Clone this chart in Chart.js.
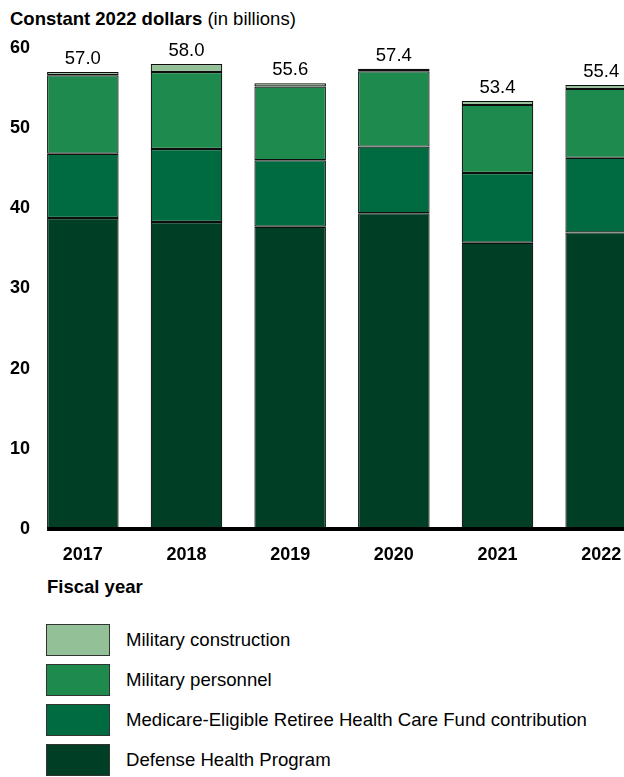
<!DOCTYPE html>
<html>
<head>
<meta charset="utf-8">
<script src="https://cdn.jsdelivr.net/npm/chart.js@4/dist/chart.umd.min.js"></script>
<style>
  html, body { margin: 0; padding: 0; background: #fff; width: 624px; height: 777px; overflow: hidden; }
  body { position: relative; font-family: "Liberation Sans", Arial, sans-serif; color: #000; }
  #title { position: absolute; left: 10px; top: 8px; font-size: 18.5px; line-height: 22px; white-space: nowrap; }
  #title b { font-weight: bold; }
  #wrap { position: absolute; left: 0; top: 0; width: 653px; height: 570px; }
  #xtitle { position: absolute; left: 47px; top: 576px; font-size: 18.5px; line-height: 22px; font-weight: bold; }
  #legend { position: absolute; left: 46px; top: 624px; }
  .li { position: relative; height: 32px; margin-bottom: 8px; }
  .sw { position: absolute; left: 0; top: 0; width: 62px; height: 30px; border: 1px solid #333; }
  .lt { position: absolute; left: 80px; top: 0; line-height: 32px; font-size: 18.6px; white-space: nowrap; }
</style>
</head>
<body>
<div id="title"><b>Constant 2022 dollars</b> (in billions)</div>
<div id="wrap"><canvas id="c" width="653" height="570"></canvas></div>
<div id="xtitle">Fiscal year</div>
<div id="legend"></div>
<script>
const years = ["2017", "2018", "2019", "2020", "2021", "2022"];
const defenseHealthProgram = [38.8, 38.3, 37.7, 39.4, 35.7, 37.0];
const medicareEligibleFund = [8.0, 9.1, 8.3, 8.3, 8.7, 9.3];
const militaryPersonnel = [9.8, 9.6, 9.2, 9.4, 8.5, 8.6];
const militaryConstruction = [0.4, 1.0, 0.4, 0.3, 0.5, 0.5];
const yTicks = [0, 10, 20, 30, 40, 50, 60];

const FONT = '"Liberation Sans", Arial, sans-serif';

const totalsPlugin = {
  id: 'totals',
  afterDatasetsDraw(chart) {
    const ctx = chart.ctx;
    const n = chart.data.datasets.length;
    const topMeta = chart.getDatasetMeta(n - 1);
    ctx.save();
    // thick zero line
    const firstBar = chart.getDatasetMeta(0).data[0];
    const y0 = chart.scales.y.getPixelForValue(0);
    ctx.fillStyle = '#000';
    ctx.fillRect(firstBar.x - firstBar.width / 2, y0 - 2, chart.chartArea.right - (firstBar.x - firstBar.width / 2), 4);
    // totals
    ctx.font = '18.5px ' + FONT;
    ctx.textAlign = 'center';
    ctx.textBaseline = 'alphabetic';
    chart.data.labels.forEach((lab, i) => {
      let sum = 0;
      chart.data.datasets.forEach(ds => { sum += ds.data[i]; });
      const el = topMeta.data[i];
      ctx.fillText(sum.toFixed(1), el.x, el.y - 8);
    });
    ctx.restore();
  }
};

const chart = new Chart(document.getElementById('c'), {
  type: 'bar',
  data: {
    labels: years,
    datasets: [
      { label: 'Defense Health Program', data: defenseHealthProgram, backgroundColor: '#003f26' },
      { label: 'Medicare-Eligible Retiree Health Care Fund contribution', data: medicareEligibleFund, backgroundColor: '#006b40' },
      { label: 'Military personnel', data: militaryPersonnel, backgroundColor: '#1f8a4d' },
      { label: 'Military construction', data: militaryConstruction, backgroundColor: '#93c096' }
    ].map(d => Object.assign(d, { borderColor: '#0d0d0d', borderWidth: 1.2, borderSkipped: false, barPercentage: 0.69, categoryPercentage: 1 }))
  },
  options: {
    responsive: false,
    animation: false,
    events: [],
    layout: { padding: { top: 48, right: 0, bottom: 0, left: 0 } },
    plugins: { legend: { display: false }, tooltip: { enabled: false } },
    scales: {
      x: {
        stacked: true,
        offset: true,
        grid: { display: false, drawTicks: false },
        border: { display: false },
        ticks: { color: '#000', font: { family: FONT, size: 18, weight: 'bold' }, padding: 15, maxRotation: 0 },
        afterFit(s) { s.height = 41; }
      },
      y: {
        stacked: true,
        min: 0, max: 60,
        afterBuildTicks(s) { s.ticks = yTicks.map(v => ({ value: v })); },
        grid: { display: false, drawTicks: false },
        border: { display: false },
        ticks: { color: '#000', font: { family: FONT, size: 18, weight: 'bold' }, padding: 1 },
        afterFit(s) { s.width = 31; }
      }
    }
  },
  plugins: [totalsPlugin]
});

// HTML legend built from the chart's datasets (top of stack first)
const legend = document.getElementById('legend');
chart.data.datasets.slice().reverse().forEach(ds => {
  const row = document.createElement('div');
  row.className = 'li';
  const sw = document.createElement('div');
  sw.className = 'sw';
  sw.style.background = ds.backgroundColor;
  const t = document.createElement('div');
  t.className = 'lt';
  t.textContent = ds.label;
  row.appendChild(sw); row.appendChild(t);
  legend.appendChild(row);
});
</script>
</body>
</html>
